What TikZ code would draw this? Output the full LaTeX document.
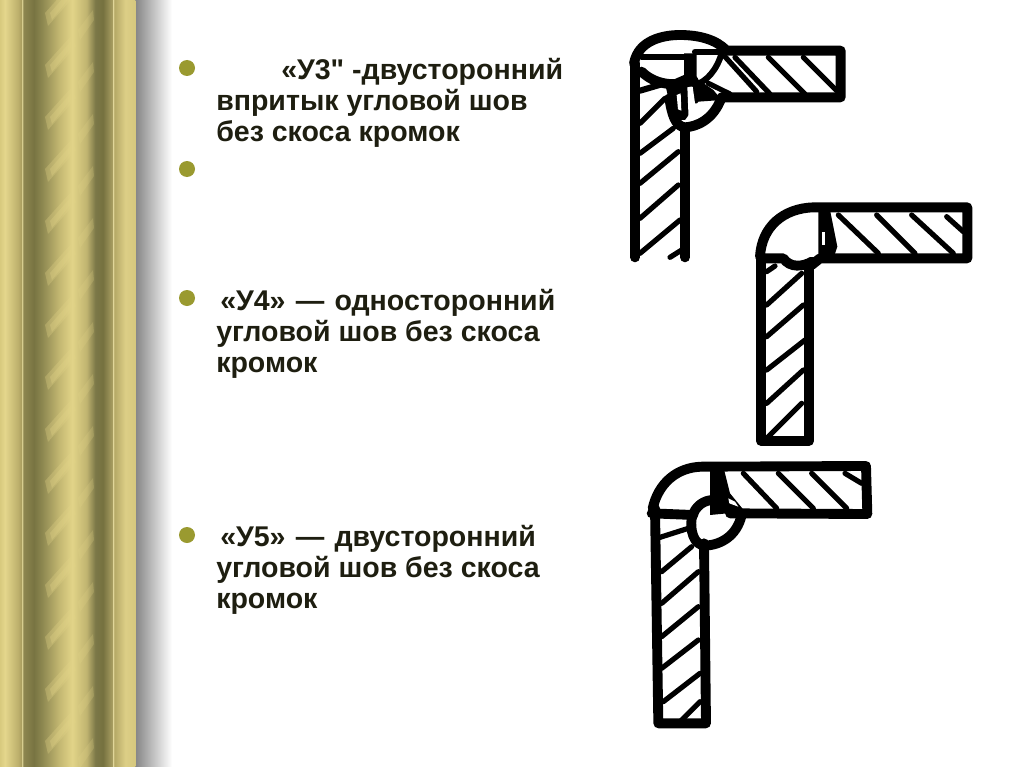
\documentclass[tikz,border=0pt]{standalone}
\usepackage{fontspec}
\setmainfont{Liberation Sans}[Ligatures=TeXOff]
\definecolor{txt}{HTML}{1E1E10}
\definecolor{bul}{HTML}{9A9A30}
\definecolor{sa}{HTML}{D8CA7E}\definecolor{sb}{HTML}{E4D68C}\definecolor{sc}{HTML}{BDB06C}\definecolor{sd}{HTML}{A89C5E}
\definecolor{se}{HTML}{F0E6A8}\definecolor{sf}{HTML}{8E8650}\definecolor{sg}{HTML}{787442}\definecolor{sh}{HTML}{8C8750}
\definecolor{si}{HTML}{C4B872}\definecolor{sj}{HTML}{E2D488}\definecolor{sk}{HTML}{C0B470}\definecolor{sl}{HTML}{7C7848}
\definecolor{sm}{HTML}{75713F}\definecolor{sn}{HTML}{A69C60}\definecolor{so}{HTML}{B4A866}\definecolor{sp}{HTML}{DCCE86}\definecolor{sq}{HTML}{D6C87E}
\pgfdeclarehorizontalshading{strip}{100bp}{
color(0bp)=(sa);color(25bp)=(sa);color(26.85bp)=(sb);color(31.7bp)=(sc);color(33bp)=(sd);
color(33.2bp)=(se);color(33.6bp)=(sf);color(37.5bp)=(sg);color(40.5bp)=(sh);color(47bp)=(si);
color(51.7bp)=(sj);color(57bp)=(sk);color(60.2bp)=(sl);color(63bp)=(sm);color(66.4bp)=(sn);
color(66.85bp)=(se);color(67.2bp)=(so);color(71.3bp)=(sp);color(75bp)=(sq);color(100bp)=(sq)}
\tikzset{
 bp/.style={line width=7.4pt,line cap=round,line join=round,black},
 med/.style={line width=4.6pt,line cap=round,line join=round,black},
 hatch/.style={line width=3.9pt,line cap=round,black},
 blob/.style={fill=black,line join=round},
 slit/.style={fill=white},
 para/.style={anchor=north west,align=left,inner sep=0pt,text=txt,font=\fontsize{21.4pt}{23.25pt}\selectfont\bfseries},
 bullet/.style={circle,fill=bul,minimum size=12pt,inner sep=0pt},
 zoomed/.style={shift={#1},scale=1/3}
}
\begin{document}
\begin{tikzpicture}[x=.75pt,y=-.75pt]
\useasboundingbox (0,0) rectangle (1024,767);
\fill[white] (0,0) rectangle (1024,767);
% shadow + strip
\shade[left color=black!48,right color=white] (135,0) rectangle (172,767);
\shade[shading=strip] (0,0) rectangle (135.3,767);
\begin{scope}
\clip (40,0) rectangle (96,767);
\foreach \k in {-1,...,15}{
  \fill[sj,opacity=.3] (45,65+52*\k) -- (72,35+52*\k) -- (76,46+52*\k) -- (48,78+52*\k) -- cycle;
  \fill[sj,opacity=.3] (50,65+52*\k) -- (72,40+52*\k) -- (74,44+52*\k) -- (52,72+52*\k) -- cycle;
  \fill[sj,opacity=.22] (78,30+52*\k) -- (93,10+52*\k) -- (94,20+52*\k) -- (80,40+52*\k) -- cycle;
}
\end{scope}
% bullets
\node[bullet] (b1) at (187,68) {};
\node[bullet] (b2) at (187,169) {};
\node[bullet] (b3) at (187,298) {};
\node[bullet] (b4) at (187,535) {};
% text
\node[para] (t1) at (216,58) {\hspace*{48.75pt}«У3" -двусторонний\\впритык угловой шов\\без скоса кромок};
\node[para] (t2) at (216,289) {\hspace*{3pt}«У4»\hspace{1.7pt} —\hspace{1.7pt} односторонний\\угловой шов без скоса\\кромок};
\node[para] (t3) at (216,525) {\hspace*{3pt}«У5»\hspace{1.7pt} —\hspace{1.7pt} двусторонний\\угловой шов без скоса\\кромок};
% figure 1
\begin{scope}[zoomed={(610,20)}]
\fill[blob] (165,190) -- (222,165) -- (222,100) -- (260,100) -- (260,175) -- (310,210) -- (335,240) -- (265,245) -- (225,300) -- (190,300) -- cycle;
\fill[slit] (200,225) -- (212,220) -- (214,272) -- (204,268) -- cycle;
\fill[slit] (232,200) -- (248,200) -- (255,250) -- (300,250) .. controls (290,280) and (260,295) .. (236,300) -- cycle;
\draw[bp] (75,130) -- (75,712);
\draw[bp] (225,330) -- (225,712);
\draw[bp] (72,130) .. controls (85,60) and (160,45) .. (210,45) .. controls (270,45) and (320,60) .. (350,92) -- (692,92) -- (692,232) -- (335,232);
\draw[bp] (335,232) .. controls (310,300) and (260,320) .. (225,322) .. controls (195,320) and (185,280) .. (178,235);
\draw[med] (335,100) .. controls (320,150) and (290,185) .. (255,195);
\draw[med] (95,110) -- (225,110);
\draw[med] (255,95) -- (330,95);
\draw[bp] (95,155) .. controls (130,190) and (190,205) .. (250,180);
\draw[med] (90,212) -- (165,190);
\draw[hatch] (90,310) -- (165,235);
\draw[hatch] (90,400) -- (190,325);
\draw[hatch] (90,490) -- (205,395);
\draw[hatch] (90,595) -- (205,495);
\draw[hatch] (90,700) -- (210,600);
\draw[hatch] (180,712) -- (215,690);
\draw[hatch] (345,110) -- (440,215);
\draw[hatch] (375,112) -- (480,222);
\draw[hatch] (475,112) -- (585,222);
\draw[hatch] (580,112) -- (680,212);
\draw[hatch] (295,190) -- (360,222);
\end{scope}
% figure 2
\begin{scope}[zoomed={(740,190)}]
\fill[blob] (235,60) -- (270,60) -- (292,170) -- (280,205) -- (235,205) -- cycle;
\fill[slit] (246,125) -- (256,125) -- (256,165) -- (246,165) -- cycle;
\draw[bp] (60,200) .. controls (65,110) and (130,55) .. (220,52) -- (682,52) -- (682,205) -- (240,205) -- (215,225);
\draw[bp] (62,200) -- (62,752) -- (208,752) -- (208,225);
\draw[bp] (62,205) -- (130,205) .. controls (150,235) and (190,230) .. (215,215);
\draw[hatch] (80,345) -- (185,250);
\draw[hatch] (80,440) -- (190,345);
\draw[hatch] (80,540) -- (195,450);
\draw[hatch] (80,640) -- (190,540);
\draw[hatch] (80,745) -- (185,640);
\draw[hatch] (295,75) -- (415,190);
\draw[hatch] (410,75) -- (525,190);
\draw[hatch] (515,75) -- (640,190);
\draw[hatch] (620,80) -- (670,125);
\draw[hatch] (80,245) -- (105,228);
\end{scope}
% figure 3
\begin{scope}[zoomed={(630,450)}]
\fill[blob] (240,50) -- (280,50) -- (300,130) -- (345,185) -- (240,195) -- cycle;
\fill[slit] (295,145) -- (315,155) -- (325,170) -- (298,160) -- cycle;
\fill[slit] (228,195) -- (320,205) .. controls (305,245) and (265,270) .. (228,272) -- cycle;
\draw[bp] (68,175) .. controls (85,100) and (140,52) .. (215,50) -- (708,48) -- (712,192) -- (300,190);
\draw[bp] (75,175) -- (85,820) -- (228,820) -- (222,280);
\draw[bp] (65,190) -- (190,195);
\draw[bp] (335,195) .. controls (320,260) and (270,285) .. (225,287) .. controls (190,285) and (180,240) .. (185,205) .. controls (195,165) and (225,150) .. (250,150);
\draw[hatch] (95,365) -- (185,290);
\draw[hatch] (95,460) -- (205,365);
\draw[hatch] (95,560) -- (205,470);
\draw[hatch] (95,655) -- (205,570);
\draw[hatch] (100,755) -- (210,670);
\draw[hatch] (145,820) -- (210,755);
\draw[hatch] (340,70) -- (440,175);
\draw[hatch] (445,70) -- (550,175);
\draw[hatch] (545,70) -- (650,175);
\draw[hatch] (645,70) -- (695,100);
\draw[hatch] (90,262) -- (175,235);
\end{scope}
\end{tikzpicture}
\end{document}
